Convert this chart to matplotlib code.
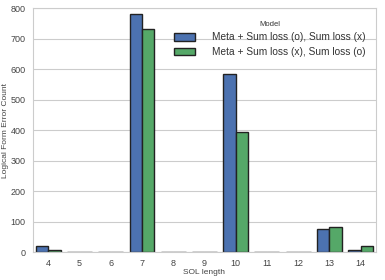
import numpy as np
import matplotlib
matplotlib.use('Agg')
import matplotlib.pyplot as plt
import seaborn as sns

sol_length = [4, 5, 6, 7, 8, 9, 10, 11, 12, 13, 14]
meta_sum_o = [20, 0, 0, 780, 0, 0, 583, 0, 0, 77, 5]
meta_sum_x = [8, 0, 0, 731, 0, 0, 395, 0, 0, 83, 20]
labels = ['Meta + Sum loss (o), Sum loss (x)', 'Meta + Sum loss (x), Sum loss (o)']

sns.set_style('whitegrid')
plt.rcParams['font.family'] = ['Liberation Sans', 'DejaVu Sans']
pal = sns.color_palette('deep')

fig = plt.figure(figsize=(3.85, 2.8), dpi=100)
ax = fig.add_axes([0.085, 0.1, 0.892, 0.871])

x = np.arange(len(sol_length))
w = 0.4
ax.bar(x - w/2, meta_sum_o, w, color=pal[0], edgecolor='#222222', linewidth=1, label=labels[0])
ax.bar(x + w/2, meta_sum_x, w, color=pal[2], edgecolor='#222222', linewidth=1, label=labels[1])

ax.set_xticks(x)
ax.set_xticklabels(sol_length)
ax.set_xlim(-0.5, len(sol_length) - 0.5)
ax.set_ylim(0, 800)
ax.tick_params(labelsize=6.5, colors='#444444', pad=1.5)
ax.grid(axis='x', visible=False)
ax.set_xlabel('SOL length', fontsize=6, color='#444444', labelpad=1)
ax.set_ylabel('Logical Form Error Count', fontsize=6, color='#444444', labelpad=1)
for s in ax.spines.values():
    s.set_color('#cccccc')

leg = ax.legend(title='Model', loc='upper right', bbox_to_anchor=(0.995, 0.985),
                fontsize=7.3, title_fontsize=5.5, frameon=False,
                handlelength=2.0, handleheight=0.75, handletextpad=1.7,
                labelspacing=0.45)
for t in leg.get_texts():
    t.set_color('#333333')
leg.get_title().set_color('#333333')

plt.savefig('out.png', dpi=100)
